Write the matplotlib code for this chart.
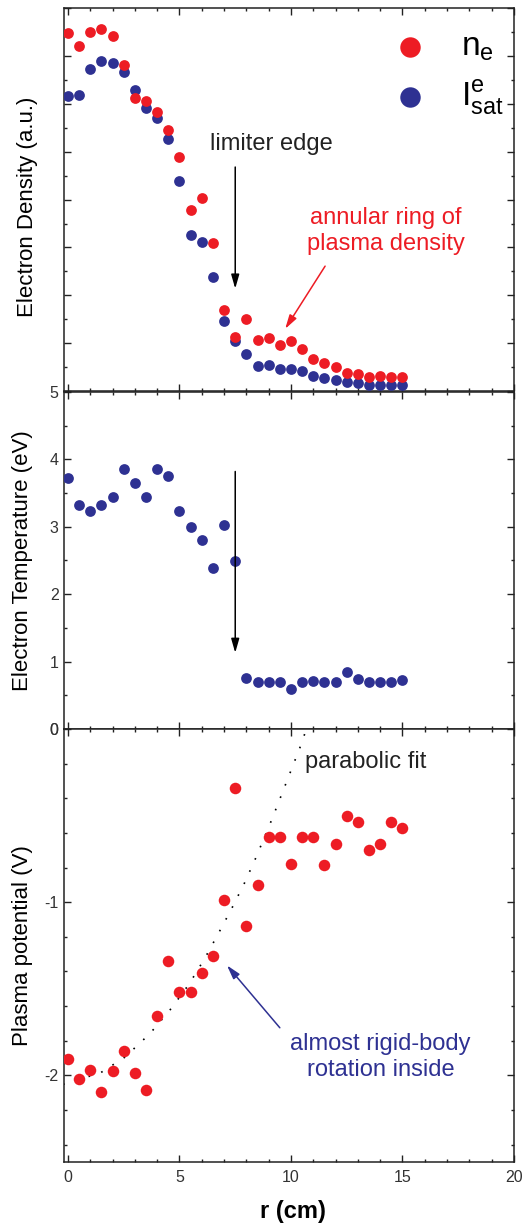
import matplotlib
matplotlib.use("Agg")
import matplotlib.pyplot as plt
from matplotlib.ticker import MultipleLocator, NullFormatter

plt.rcParams['font.family'] = ['Liberation Sans', 'DejaVu Sans']
plt.rcParams['mathtext.fontset'] = 'custom'
plt.rcParams['mathtext.rm'] = 'Liberation Sans'
plt.rcParams['axes.unicode_minus'] = False

RED = '#ED1C24'
BLUE = '#2E3192'
AXC = '#222222'

# radial positions (cm)
r = [0.0, 0.5, 1.0, 1.5, 2.0, 2.5, 3.0, 3.5, 4.0, 4.5, 5.0, 5.5, 6.0, 6.5, 7.0, 7.5,
     8.0, 8.5, 9.0, 9.5, 10.0, 10.5, 11.0, 11.5, 12.0, 12.5, 13.0, 13.5, 14.0, 14.5, 15.0]

# electron density (a.u.)
n_e = [12.48, 12.20, 12.51, 12.57, 12.42, 11.82, 11.13, 11.05, 10.82, 10.46, 9.88, 8.79,
       9.04, 8.10, 6.70, 6.13, 6.51, 6.07, 6.11, 5.97, 6.05, 5.87, 5.67, 5.58, 5.51, 5.38,
       5.36, 5.29, 5.31, 5.29, 5.29]
i_sat = [11.16, 11.19, 11.73, 11.89, 11.86, 11.67, 11.28, 10.92, 10.71, 10.27, 9.38, 8.26,
         8.12, 7.39, 6.47, 6.05, 5.78, 5.52, 5.54, 5.47, 5.47, 5.42, 5.32, 5.27, 5.24, 5.18,
         5.17, 5.13, 5.13, 5.13, 5.13]

# electron temperature (eV)
t_e = [3.72, 3.33, 3.23, 3.33, 3.44, 3.85, 3.65, 3.44, 3.85, 3.75, 3.23, 3.00, 2.80, 2.39,
       3.03, 2.49, 0.76, 0.69, 0.69, 0.69, 0.59, 0.69, 0.71, 0.69, 0.69, 0.84, 0.74, 0.70,
       0.69, 0.69, 0.73]

# plasma potential (V)
v_p = [-1.908, -2.019, -1.969, -2.096, -1.977, -1.858, -1.988, -2.087, -1.658, -1.338,
       -1.519, -1.519, -1.410, -1.310, -0.990, -0.342, -1.138, -0.898, -0.625, -0.625,
       -0.781, -0.625, -0.625, -0.788, -0.662, -0.502, -0.535, -0.696, -0.662, -0.537, -0.571]

# parabolic fit curve
fit_r = [-0.22, 1.46, 2.56, 3.68, 4.64, 5.44, 6.14, 6.76, 7.34, 7.92, 8.43, 9.14, 9.80, 10.46, 10.64]
fit_v = [-2.052, -1.985, -1.894, -1.758, -1.612, -1.471, -1.323, -1.177, -1.037, -0.888,
         -0.742, -0.523, -0.306, -0.088, -0.019]

fig = plt.figure(figsize=(5.25, 12.26), dpi=100)
left, width = 0.121, 0.858
ax1 = fig.add_axes([left, 0.681, width, 0.3124])
ax2 = fig.add_axes([left, 0.4054, width, 0.2749])
ax3 = fig.add_axes([left, 0.0522, width, 0.3532])

ms = 60
arrow = '-|>,head_length=0.7,head_width=0.2'
for ax in (ax1, ax2, ax3):
    ax.set_xlim(-0.2, 20)
    ax.xaxis.set_major_locator(MultipleLocator(5))
    ax.xaxis.set_minor_locator(MultipleLocator(1))
    ax.tick_params(which='both', direction='in', top=True, right=True,
                   colors=AXC, labelcolor='#333333', labelsize=11.5, width=1)
    ax.tick_params(which='major', length=5)
    ax.tick_params(which='minor', length=2.5)
    ax.tick_params(axis='x', pad=6)
    for s in ax.spines.values():
        s.set_color(AXC)
        s.set_linewidth(1.1)

# top panel: density
ax1.scatter(r, i_sat, s=ms, color=BLUE, linewidths=0, label=r'$\mathregular{I^e_{sat}}$', zorder=3)
ax1.scatter(r, n_e, s=ms, color=RED, linewidths=0, label=r'$\mathregular{n_e}$', zorder=4)
ax1.set_ylim(5, 13)
ax1.yaxis.set_major_locator(MultipleLocator(1))
ax1.yaxis.set_minor_locator(MultipleLocator(0.5))
ax1.yaxis.set_major_formatter(NullFormatter())
ax1.xaxis.set_major_formatter(NullFormatter())
ax1.set_ylabel('Electron Density (a.u.)', fontsize=16, va='center')
ax1.yaxis.set_label_coords(-0.081, 0.481)
h, l = ax1.get_legend_handles_labels()
ax1.legend(h[::-1], l[::-1], loc='upper left', bbox_to_anchor=(0.68, 1.0), frameon=False,
           fontsize=24, markerscale=1.9, handlelength=1.0, handletextpad=1.05,
           labelspacing=0.45, borderpad=0.2)
ax1.annotate('', xy=(7.5, 7.14), xytext=(7.5, 9.68),
             arrowprops=dict(arrowstyle=arrow, color='black', lw=1.1, mutation_scale=12,
                             shrinkA=0, shrinkB=0))
ax1.text(9.13, 10.16, 'limiter edge', fontsize=17, color='#222222', ha='center', va='center')
ax1.text(14.27, 8.35, 'annular ring of\nplasma density', fontsize=17, color=RED,
         ha='center', va='center', linespacing=1.25)
ax1.annotate('', xy=(9.74, 6.30), xytext=(11.53, 7.61),
             arrowprops=dict(arrowstyle=arrow, color=RED, lw=1.1, mutation_scale=12,
                             shrinkA=0, shrinkB=0))

# middle panel: temperature
ax2.scatter(r, t_e, s=ms, color=BLUE, linewidths=0, zorder=3)
ax2.set_ylim(0, 5)
ax2.yaxis.set_major_locator(MultipleLocator(1))
ax2.yaxis.set_minor_locator(MultipleLocator(0.5))
ax2.xaxis.set_major_formatter(NullFormatter())
ax2.set_ylabel('Electron Temperature (eV)', fontsize=16, va='center')
ax2.yaxis.set_label_coords(-0.092, 0.5)
ax2.annotate('', xy=(7.5, 1.13), xytext=(7.5, 3.82),
             arrowprops=dict(arrowstyle=arrow, color='black', lw=1.1, mutation_scale=12,
                             shrinkA=0, shrinkB=0))

# bottom panel: potential
ax3.plot(fit_r, fit_v, color='black', lw=1.2, linestyle=(0, (1, 7)), zorder=2)
ax3.scatter(r, v_p, s=ms * 1.15, color=RED, linewidths=0, zorder=3)
ax3.set_ylim(-2.5, 0)
ax3.yaxis.set_major_locator(MultipleLocator(1))
ax3.yaxis.set_minor_locator(MultipleLocator(0.2))
ax3.set_ylabel('Plasma potential (V)', fontsize=16, va='center')
ax3.yaxis.set_label_coords(-0.092, 0.5)
ax3.set_xlabel('r (cm)', fontsize=17, fontweight='bold', va='center')
ax3.xaxis.set_label_coords(0.509, -0.115)
ax3.text(10.65, -0.19, 'parabolic fit', fontsize=17, color='#222222', ha='left', va='center')
ax3.text(14.02, -1.894, 'almost rigid-body\nrotation inside', fontsize=17, color=BLUE,
         ha='center', va='center', linespacing=1.25)
ax3.annotate('', xy=(7.13, -1.365), xytext=(9.50, -1.725),
             arrowprops=dict(arrowstyle=arrow, color=BLUE, lw=1.1, mutation_scale=12,
                             shrinkA=0, shrinkB=0))

fig.savefig('out.png', dpi=100)
